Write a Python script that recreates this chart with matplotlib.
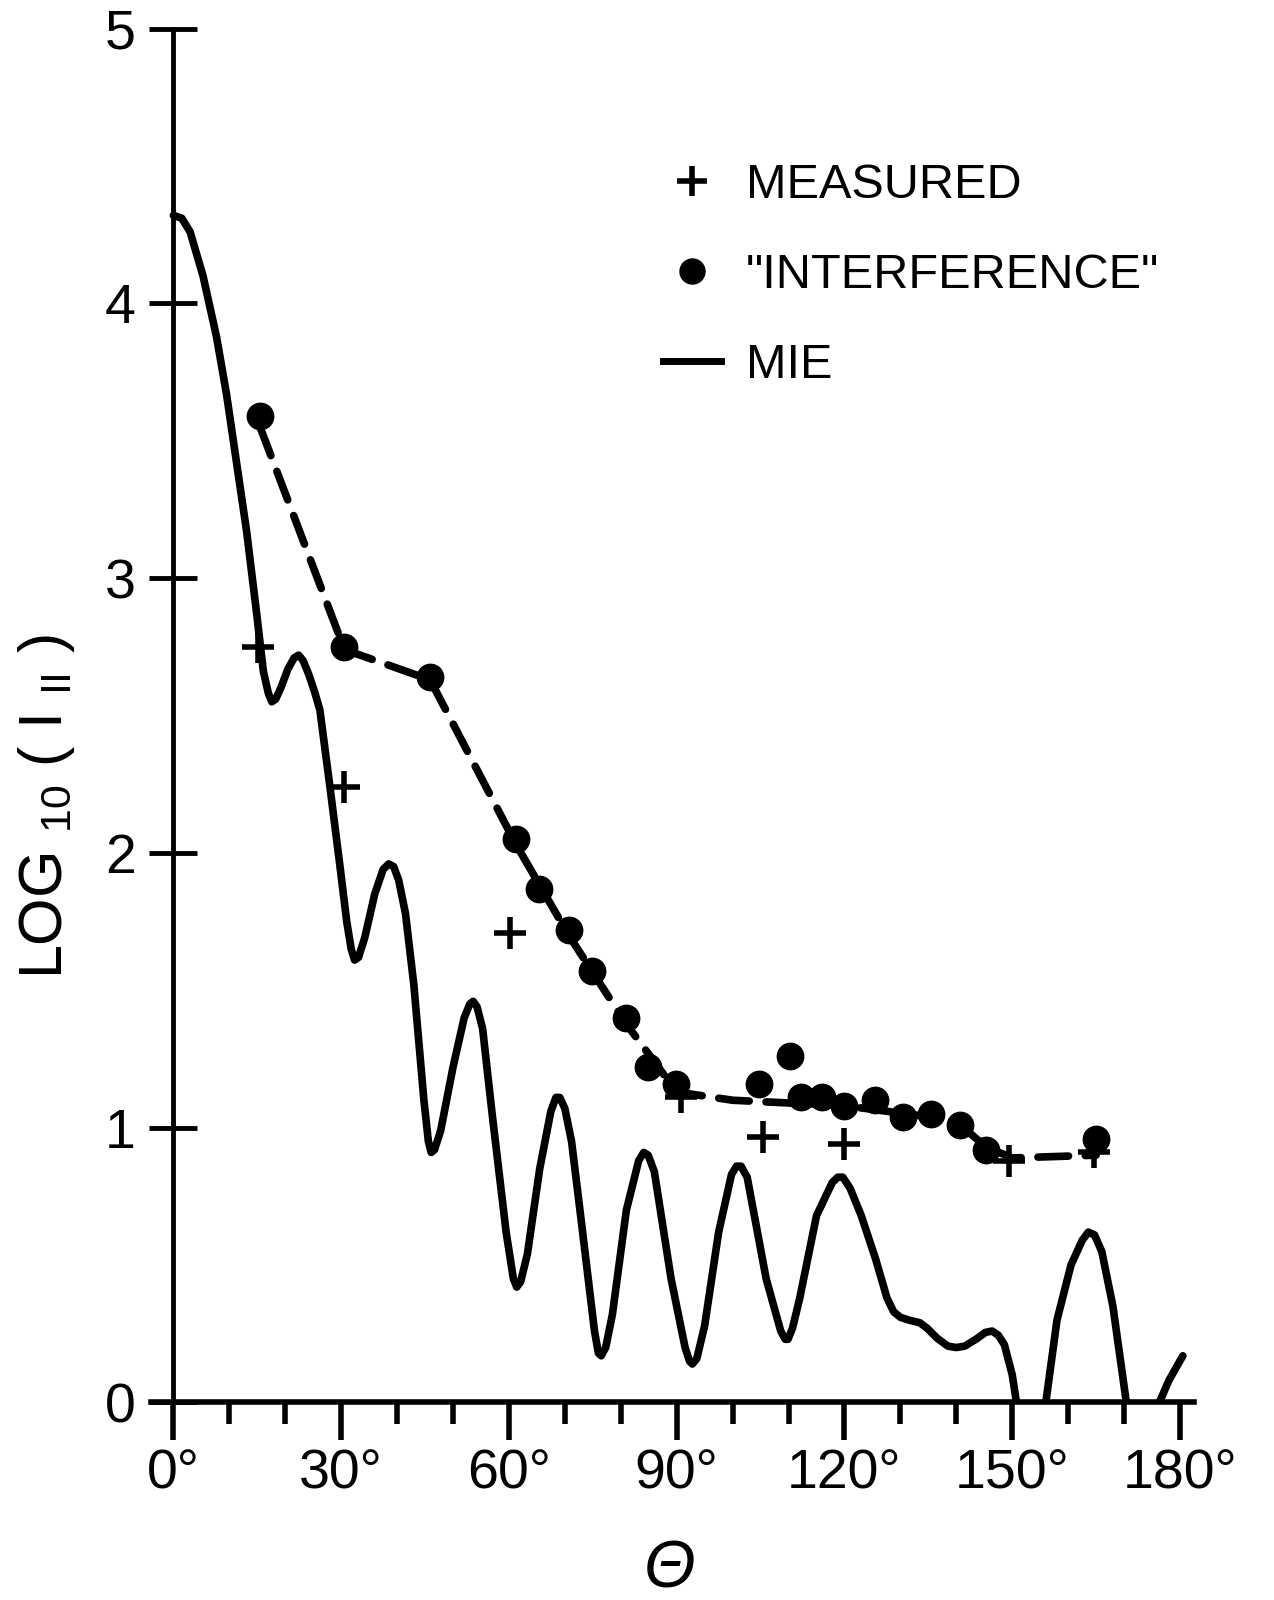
import matplotlib
matplotlib.use("Agg")
import matplotlib.pyplot as plt
from matplotlib.lines import Line2D
from matplotlib.ticker import FixedLocator, MultipleLocator

plt.rcParams['font.family'] = ['Liberation Sans', 'DejaVu Sans']
plt.rcParams['mathtext.default'] = 'regular'

# ---- data ----
mie_theta = [0, 1.5, 3, 5.3, 7.7, 9.5, 11.3, 13.1, 14.9, 16.1, 17.0, 17.6, 18.3, 19.2,
             20.5, 21.6, 22.4, 23.2, 24.2, 25.2, 26.2, 28.0, 29.8, 31.0, 31.8, 32.4,
             33.1, 34.2, 36.0, 37.5, 38.5, 39.4, 40.3, 41.5, 43.0, 44.8, 45.6, 46.1,
             46.7, 47.8, 50.0, 52.0, 53.0, 53.6, 54.3, 55.3, 57.0, 59.5, 60.8, 61.4,
             62.1, 63.3, 65.5, 67.5, 68.4, 69.1, 70.0, 71.2, 73.0, 75.3, 76.0, 76.5,
             77.3, 78.5, 81.0, 83.2, 84.1, 84.9, 86.0, 89.0, 91.5, 92.3, 92.8, 93.6,
             95.0, 97.5, 99.8, 100.7, 101.5, 102.6, 106.0, 108.6, 109.4, 109.9, 110.7,
             112.0, 115.0, 117.8, 118.8, 119.7, 121.0, 123.0, 125.6, 127.6, 128.8,
             130.0, 131.5, 133.5, 134.8, 136.5, 138.5, 140.0, 141.5, 143.5, 145.2,
             146.4, 147.5, 148.6, 150.0, 151.5, 153.5, 155.0, 156.0, 158.0, 160.5,
             162.5, 163.6, 164.7, 166.0, 168.0, 170.4, 172.0, 174.5, 176.3, 178.0, 180.5]
mie_log = [4.32, 4.31, 4.26, 4.10, 3.88, 3.67, 3.42, 3.17, 2.87, 2.66, 2.58, 2.55, 2.56,
           2.60, 2.67, 2.71, 2.72, 2.70, 2.65, 2.59, 2.52, 2.24, 1.95, 1.75, 1.65, 1.61,
           1.62, 1.69, 1.85, 1.94, 1.96, 1.95, 1.90, 1.78, 1.52, 1.10, 0.95, 0.91, 0.92,
           0.99, 1.22, 1.40, 1.45, 1.46, 1.44, 1.36, 1.05, 0.62, 0.45, 0.42, 0.44, 0.54,
           0.85, 1.06, 1.11, 1.11, 1.07, 0.95, 0.65, 0.26, 0.18, 0.17, 0.20, 0.32, 0.70,
           0.88, 0.91, 0.90, 0.84, 0.45, 0.20, 0.15, 0.14, 0.16, 0.28, 0.62, 0.83, 0.86,
           0.86, 0.82, 0.45, 0.26, 0.23, 0.23, 0.27, 0.38, 0.68, 0.80, 0.82, 0.82, 0.78,
           0.68, 0.52, 0.38, 0.33, 0.31, 0.30, 0.29, 0.27, 0.235, 0.205, 0.20, 0.205,
           0.23, 0.255, 0.26, 0.245, 0.21, 0.10, -0.10, -0.35, -0.30, 0.0, 0.30, 0.50,
           0.59, 0.62, 0.61, 0.55, 0.35, 0.0, -0.30, -0.30, 0.0, 0.08, 0.17]

interf_theta = [15.5, 30.6, 45.9, 61.3, 65.3, 70.7, 74.9, 80.9, 84.8, 89.9, 104.8, 110.3,
                112.3, 116.0, 120.0, 125.4, 130.5, 135.5, 140.7, 145.3, 165.0]
interf_log = [3.59, 2.75, 2.64, 2.05, 1.87, 1.72, 1.57, 1.40, 1.22, 1.16, 1.16, 1.26,
              1.11, 1.11, 1.08, 1.10, 1.04, 1.05, 1.01, 0.92, 0.96]

dash_theta = [15.5, 30.6, 45.9, 61.3, 70.7, 80.9, 90.0, 100.0, 120.0, 135.0, 140.7,
              145.3, 150.0, 165.0]
dash_log = [3.55, 2.74, 2.63, 2.03, 1.70, 1.38, 1.13, 1.10, 1.08, 1.04, 1.01, 0.93,
            0.89, 0.90]

meas_theta = [15.1, 30.6, 60.2, 90.8, 105.4, 120.0, 149.5, 164.6]
meas_log = [2.75, 2.24, 1.71, 1.11, 0.965, 0.94, 0.88, 0.91]

x_ticks = [0, 30, 60, 90, 120, 150, 180]
x_ticklabels = ['0°', '30°', '60°', '90°', '120°', '150°', '180°']
y_ticks = [0, 1, 2, 3, 4, 5]
y_ticklabels = ['0', '1', '2', '3', '4', '5']

# ---- figure ----
fig = plt.figure(figsize=(12.74, 16), dpi=100)
ax = fig.add_axes([0.11852, 0.12344, 0.8187, 0.85869])

ax.plot(mie_theta, mie_log, color='black', lw=5.5, solid_capstyle='round',
        solid_joinstyle='round')
ax.plot(dash_theta, dash_log, color='black', lw=5.5, dashes=(4, 2.2),
        dash_capstyle='round')
ax.plot(interf_theta, interf_log, 'o', color='black', ms=19, clip_on=False)
ax.plot(meas_theta, meas_log, '+', color='black', ms=23, mew=4, clip_on=False)

ax.set_xlim(-4, 182.5)
ax.set_ylim(0, 5)

for s in ['top', 'right']:
    ax.spines[s].set_visible(False)
ax.spines['left'].set_position(('data', 0))
ax.spines['left'].set_linewidth(3.5)
ax.spines['bottom'].set_linewidth(4)

ax.xaxis.set_major_locator(FixedLocator(x_ticks))
ax.xaxis.set_minor_locator(MultipleLocator(10))
ax.set_xticklabels(x_ticklabels)
ax.yaxis.set_major_locator(FixedLocator(y_ticks))
ax.set_yticklabels(y_ticklabels)

ax.tick_params(axis='x', which='major', direction='out', length=27, width=4,
               pad=6, labelsize=40)
ax.tick_params(axis='x', which='minor', direction='out', length=16, width=4)
ax.tick_params(axis='y', which='major', direction='inout', length=34, width=3.5,
               pad=10, labelsize=40)

ax.set_xlabel('Θ', fontsize=48, fontstyle='italic')
ax.xaxis.label.set_va('center')
ax.xaxis.set_label_coords(0.497, -0.122)

ax.set_ylabel('LOG $_{10}$ ( I $_{II}$ )', fontsize=44)
ax.yaxis.label.set_va('center')
ax.yaxis.set_label_coords(-0.0999, 0.434)

handles = [
    Line2D([], [], color='black', marker='+', ls='none', ms=21, mew=4),
    Line2D([], [], color='black', marker='o', ls='none', ms=18),
    Line2D([], [], color='black', lw=5),
]
labels = ['MEASURED', '"INTERFERENCE"', 'MIE']
ax.legend(handles, labels, loc='upper left', bbox_to_anchor=(0.5204, 0.898),
          bbox_transform=fig.transFigure, frameon=False, fontsize=35,
          handlelength=1.2, handletextpad=0.5, labelspacing=0.92,
          borderpad=0, borderaxespad=0)

fig.savefig('out.png', dpi=100, facecolor='white')
